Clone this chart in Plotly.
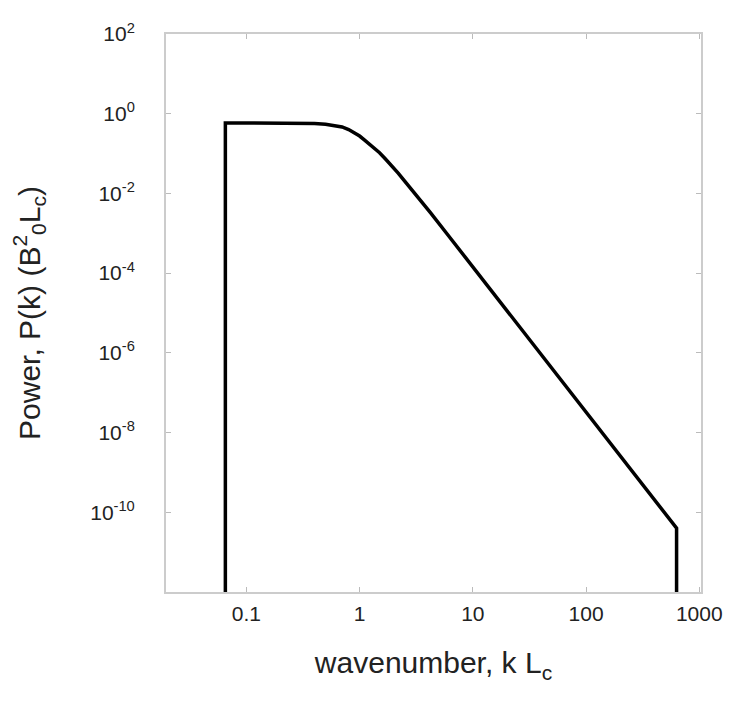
import plotly.graph_objects as go

# values (log-log power spectrum)
k_vals = [0.0652, 0.0652, 0.1, 0.2, 0.3, 0.4, 0.5, 0.6, 0.7, 0.8, 0.9, 1.0,
          1.1, 1.25, 1.4, 1.5, 1.7, 1.876, 2.2, 2.5, 2.81, 3.5, 4.22, 6, 10,
          39.4, 100, 300, 630, 630]
p_vals = [1e-13, 0.586, 0.586, 0.584, 0.578, 0.566, 0.545, 0.51, 0.465, 0.40,
          0.335, 0.275, 0.22, 0.166, 0.126, 0.105, 0.072, 0.054, 0.032, 0.0204,
          0.0138, 0.0065, 0.0033, 9.2e-4, 1.44e-4, 9.7e-7, 3.25e-8, 5.9e-10,
          4.0e-11, 1e-13]

x_ticks = [0.1, 1, 10, 100, 1000]
x_labels = ["0.1", "1", "10", "100", "1000"]
y_ticks = [1e2, 1e0, 1e-2, 1e-4, 1e-6, 1e-8, 1e-10]
y_labels = ["10<sup>2</sup>", "10<sup>0</sup>", "10<sup>-2</sup>", "10<sup>-4</sup>",
            "10<sup>-6</sup>", "10<sup>-8</sup>", "10<sup>-10</sup>"]

font = "Liberation Sans, Arial, sans-serif"

fig = go.Figure()
fig.add_trace(go.Scatter(x=k_vals, y=p_vals, mode="lines",
                         line=dict(color="black", width=3.5), showlegend=False))

axis_style = dict(
    type="log", showgrid=False, zeroline=False,
    showline=True, linecolor="#cccccc", linewidth=2, mirror="ticks",
    ticks="inside", ticklen=5, tickwidth=1, tickcolor="#bbbbbb",
    tickfont=dict(family=font, size=21, color="#222222"),
)

fig.update_xaxes(**axis_style, range=[-1.71, 3.015], tickvals=x_ticks, ticktext=x_labels,
                 ticklabelstandoff=2,
                 title=dict(text="wavenumber, k L<sub>c</sub>", standoff=28,
                            font=dict(family=font, size=30, color="#222222")))
fig.update_yaxes(**axis_style, range=[-12, 2], tickvals=y_ticks, ticktext=y_labels,
                 ticklabelstandoff=25,
                 title=dict(text="Power, P(k) (B<sup>2</sup><sub>0</sub>L<sub>c</sub>)", standoff=42,
                            font=dict(family=font, size=30, color="#222222")))

fig.update_layout(
    width=739, height=699,
    margin=dict(l=158, r=46, t=22, b=115),
    plot_bgcolor="white", paper_bgcolor="white",
)

fig.write_html("out.html")
